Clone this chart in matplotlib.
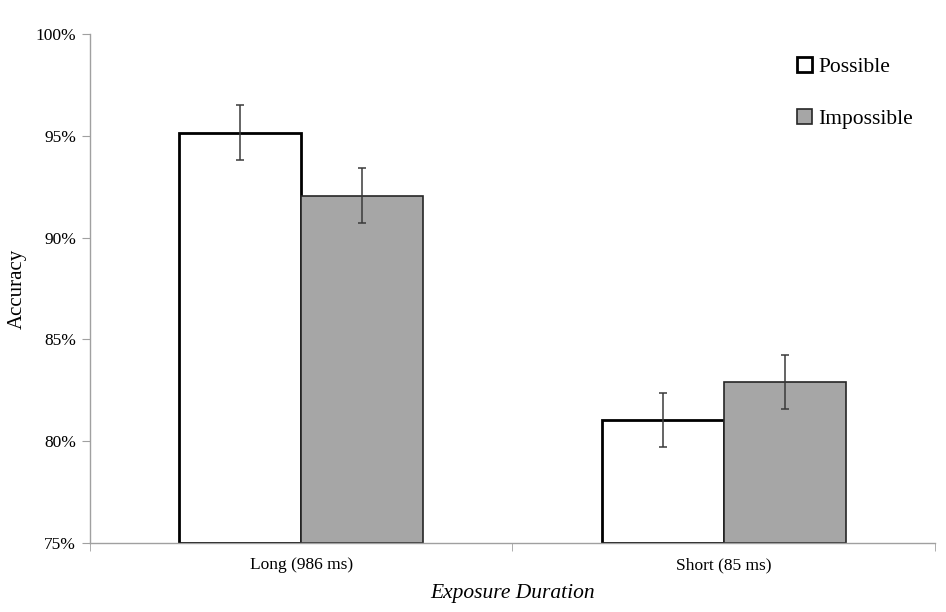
import matplotlib
matplotlib.use("Agg")
import matplotlib.pyplot as plt
import numpy as np
from matplotlib.ticker import FixedLocator, FuncFormatter

categories = ["Long (986 ms)", "Short (85 ms)"]
series = ["Possible", "Impossible"]
possible = [95.15, 81.05]
impossible = [92.05, 82.90]
possible_err = [1.35, 1.33]
impossible_err = [1.35, 1.33]

plt.rcParams['font.family'] = ['Liberation Serif', 'DejaVu Serif']

fig = plt.figure(figsize=(9.46, 6.12), dpi=100)
ax = fig.add_axes([0.0951, 0.1127, 0.8933, 0.8317])

x = np.arange(len(categories))
w = 0.289
ax.bar(x - w/2, np.array(possible) - 75, w, bottom=75, color='white', edgecolor='black', linewidth=2, label=series[0], zorder=2)
ax.bar(x + w/2, np.array(impossible) - 75, w, bottom=75, color='#a6a6a6', edgecolor='#262626', linewidth=1.2, label=series[1], zorder=2)
ax.errorbar(x - w/2, possible, yerr=possible_err, fmt='none', ecolor='#3a3a3a', elinewidth=1.1, capsize=2.8, capthick=1.1, zorder=3)
ax.errorbar(x + w/2, impossible, yerr=impossible_err, fmt='none', ecolor='#3a3a3a', elinewidth=1.1, capsize=2.8, capthick=1.1, zorder=3)

ax.set_xlim(-0.5, 1.5)
ax.set_ylim(75, 100)
ax.set_yticks([75, 80, 85, 90, 95, 100])
ax.yaxis.set_major_formatter(FuncFormatter(lambda v, p: f"{int(v)}%"))
ax.set_xticks(x)
ax.set_xticklabels(categories, fontsize=12.5)
ax.xaxis.set_minor_locator(FixedLocator([-0.5, 0.5, 1.5]))
ax.tick_params(axis='x', which='major', length=0, pad=10)
ax.tick_params(axis='x', which='minor', length=6, color='#a0a0a0', direction='out')
ax.tick_params(axis='y', which='major', length=6, color='#a0a0a0', labelsize=12.5, pad=4)

for s in ['top', 'right']:
    ax.spines[s].set_visible(False)
for s in ['left', 'bottom']:
    ax.spines[s].set_color('#a0a0a0')
    ax.spines[s].set_linewidth(1)

ax.set_ylabel("Accuracy", fontsize=15, labelpad=6)
ax.set_xlabel("Exposure Duration", fontsize=15.5, style='italic', labelpad=8)

leg = ax.legend(loc='upper left', bbox_to_anchor=(0.8335, 0.921), bbox_transform=fig.transFigure,
                frameon=False, fontsize=15.5, handlelength=0.7, handleheight=0.7,
                handletextpad=0.3, labelspacing=1.5, borderaxespad=0)

fig.savefig("out.png", dpi=100)
